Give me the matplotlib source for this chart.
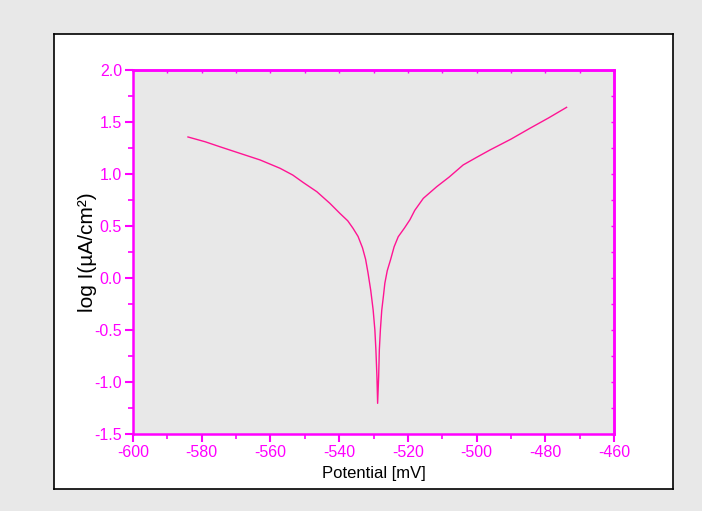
import matplotlib
matplotlib.use("Agg")
import matplotlib.pyplot as plt
from matplotlib.ticker import MultipleLocator

potential = [-584.0, -579.0, -574.7, -569.0, -563.0, -557.2, -553.5, -550.4, -546.5,
             -542.7, -539.8, -537.5, -536.0, -534.5, -533.2, -532.3, -531.6, -530.8,
             -530.1, -529.6, -529.3, -529.0, -528.8,
             -528.5, -528.3, -528.0, -527.6, -527.1, -526.7, -526.0, -525.0, -524.0,
             -522.8, -521.0, -519.4, -518.0, -515.5, -511.6, -508.0, -503.9, -500.0,
             -496.1, -490.0, -484.5, -479.0, -473.8]
log_i = [1.356, 1.310, 1.262, 1.200, 1.135, 1.055, 0.990, 0.917, 0.830,
         0.718, 0.622, 0.550, 0.480, 0.400, 0.290, 0.180, 0.050, -0.120,
         -0.308, -0.500, -0.692, -0.950, -1.205,
         -0.950, -0.690, -0.500, -0.310, -0.170, -0.051, 0.070, 0.180, 0.300,
         0.397, 0.480, 0.560, 0.650, 0.766, 0.878, 0.970, 1.087, 1.160,
         1.231, 1.335, 1.439, 1.540, 1.641]

xticks = [-600, -580, -560, -540, -520, -500, -480, -460]
yticks = [-1.5, -1.0, -0.5, 0.0, 0.5, 1.0, 1.5, 2.0]

plt.rcParams['font.family'] = ['Liberation Sans', 'DejaVu Sans']

W, H = 702, 511
fig = plt.figure(figsize=(W / 100, H / 100), dpi=100)
fig.patch.set_facecolor('#e8e8e8')

bg = fig.add_axes([54 / W, 1 - 489 / H, (673 - 54) / W, (489 - 34) / H], zorder=-5)
bg.set_facecolor('white')
bg.set_xticks([])
bg.set_yticks([])
for s in bg.spines.values():
    s.set_color('black')
    s.set_linewidth(1.2)

ax = fig.add_axes([133 / W, 1 - 434 / H, (614 - 133) / W, (434 - 70) / H], zorder=1)
ax.set_facecolor('#e8e8e8')
mag = '#ff00ff'
ax.plot(potential, log_i, color='#ff1493', linewidth=1.0)

ax.set_xlim(-600, -460)
ax.set_ylim(-1.5, 2.0)
ax.set_xticks(xticks)
ax.set_yticks(yticks)
ax.set_xticklabels([str(v) for v in xticks])
ax.set_yticklabels([f"{v:.1f}" for v in yticks])
ax.xaxis.set_minor_locator(MultipleLocator(10))
ax.yaxis.set_minor_locator(MultipleLocator(0.25))

for s in ax.spines.values():
    s.set_color(mag)
    s.set_linewidth(1.8)

ax.tick_params(which='major', direction='out', length=6, width=1.5, color=mag,
               labelcolor=mag, labelsize=11.5, pad=2)
ax.tick_params(which='minor', direction='out', length=3.5, width=1.2, color=mag)
ax.tick_params(axis='x', which='both', top=False)
ax.tick_params(axis='y', which='both', right=False)

sec_x = ax.secondary_xaxis('top')
sec_x.set_xticks(xticks)
sec_x.xaxis.set_minor_locator(MultipleLocator(10))
sec_x.tick_params(which='both', direction='in', length=2, width=1, color=mag, labeltop=False)
sec_x.spines['top'].set_color(mag)
sec_x.spines['top'].set_linewidth(1.8)
sec_y = ax.secondary_yaxis('right')
sec_y.set_yticks(yticks)
sec_y.yaxis.set_minor_locator(MultipleLocator(0.25))
sec_y.tick_params(which='both', direction='in', length=2, width=1, color=mag, labelright=False)
sec_y.spines['right'].set_color(mag)
sec_y.spines['right'].set_linewidth(1.8)

ax.set_xlabel('Potential [mV]', fontsize=12, color='black', labelpad=4)
ax.set_ylabel('log I(µA/cm²)', fontsize=15, color='black')
ax.yaxis.set_label_coords((97 - 133) / (614 - 133), 0.5)

fig.savefig('out.png', dpi=100, facecolor=fig.get_facecolor())
